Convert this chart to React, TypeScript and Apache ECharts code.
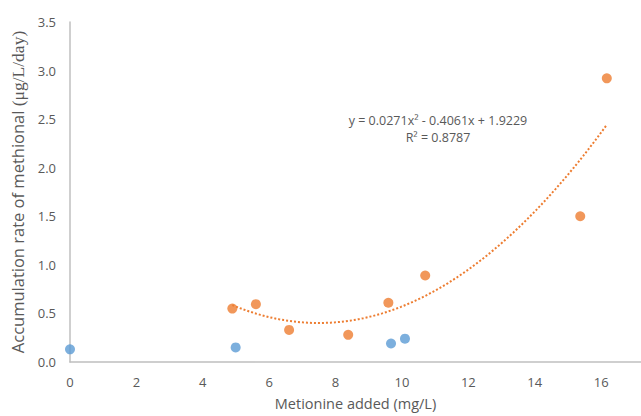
import React, { useEffect, useRef } from "react";
import * as echarts from "echarts";

const blueX = [0, 4.99, 9.67, 10.09];
const blueY = [0.13, 0.15, 0.19, 0.24];
const orangeX = [4.89, 5.6, 6.6, 8.38, 9.59, 10.7, 15.37, 16.17];
const orangeY = [0.55, 0.595, 0.33, 0.28, 0.61, 0.89, 1.5, 2.92];
// trendline coefficients from the displayed equation: y = a x^2 + b x + c
const trendCoef = [0.0271, -0.4061, 1.9229];
const equationLines = ["y = 0.0271x² - 0.4061x + 1.9229", "R² = 0.8787"];

export default function App() {
  const ref = useRef<HTMLDivElement>(null);
  useEffect(() => {
    const chart = echarts.init(ref.current!, undefined, { renderer: "svg" });
    const xmin = Math.min(...orangeX);
    const xmax = Math.max(...orangeX);
    const trend: number[][] = [];
    const steps = 80;
    for (let i = 0; i <= steps; i++) {
      const x = xmin + ((xmax - xmin) * i) / steps;
      trend.push([x, trendCoef[0] * x * x + trendCoef[1] * x + trendCoef[2]]);
    }
    const font = "'Open Sans', 'Noto Sans', sans-serif";
    chart.setOption({
      animation: false,
      textStyle: { fontFamily: font },
      grid: { left: 70, right: 0, top: 22, bottom: 51, containLabel: false },
      xAxis: {
        type: "value",
        min: 0,
        max: 17.2,
        interval: 2,
        name: "Metionine added (mg/L)",
        nameLocation: "middle",
        nameGap: 34,
        nameTextStyle: { color: "#595959", fontSize: 14.5, fontFamily: font },
        axisLine: { show: true, lineStyle: { color: "#BFBFBF", width: 1.5 } },
        axisTick: { show: false },
        axisLabel: { color: "#595959", fontSize: 13, margin: 13, fontFamily: font, showMaxLabel: false },
        splitLine: { show: false },
      },
      yAxis: {
        type: "value",
        min: 0,
        max: 3.5,
        interval: 0.5,
        name: "Accumulation rate of methional {s|(μg/L/day)}",
        nameLocation: "middle",
        nameGap: 42,
        nameTextStyle: {
          color: "#595959",
          fontSize: 16.5,
          fontFamily: font,
          rich: { s: { fontFamily: "'Liberation Serif', serif", fontSize: 17.5, color: "#595959" } },
        },
        axisLine: { show: true, lineStyle: { color: "#BFBFBF", width: 1.5 } },
        axisTick: { show: false },
        axisLabel: {
          color: "#595959",
          fontSize: 13,
          margin: 14,
          fontFamily: font,
          formatter: (v: number) => v.toFixed(1),
        },
        splitLine: { show: false },
      },
      series: [
        {
          type: "scatter",
          data: blueX.map((x, i) => [x, blueY[i]]),
          symbolSize: 10,
          itemStyle: { color: "#5B9BD5" },
        },
        {
          type: "scatter",
          data: orangeX.map((x, i) => [x, orangeY[i]]),
          symbolSize: 10,
          itemStyle: { color: "#ED7D31" },
        },
        {
          type: "line",
          data: trend,
          showSymbol: false,
          smooth: false,
          lineStyle: { color: "#ED7D31", width: 2, type: [2, 2], cap: "butt" },
          z: 1,
        },
      ],
      graphic: [
        {
          type: "text",
          x: 438,
          y: 120,
          style: {
            text: equationLines[0],
            fill: "#595959",
            font: `12.5px ${font}`,
            textAlign: "center",
            textVerticalAlign: "middle",
          },
        },
        {
          type: "text",
          x: 438,
          y: 137,
          style: {
            text: equationLines[1],
            fill: "#595959",
            font: `12.5px ${font}`,
            textAlign: "center",
            textVerticalAlign: "middle",
          },
        },
      ],
    });
    return () => chart.dispose();
  }, []);
  return <div ref={ref} style={{ width: 641, height: 416, position: "absolute", left: 0, top: 0 }} />;
}
